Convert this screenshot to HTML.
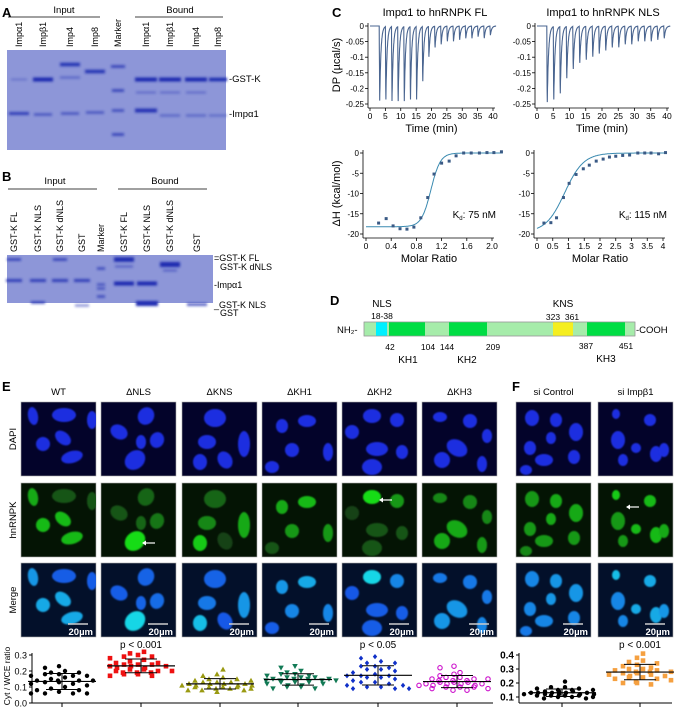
<!DOCTYPE html>
<html><head><meta charset="utf-8">
<style>
html,body{margin:0;padding:0;background:#fff;}
svg{display:block;font-family:"Liberation Sans",Arial,sans-serif;}
</style></head>
<body>
<svg id="fig" width="676" height="709" viewBox="0 0 676 709" xmlns="http://www.w3.org/2000/svg">
<defs>
<filter id="bl" x="-50%" y="-200%" width="200%" height="500%"><feGaussianBlur stdDeviation="1.2"/></filter>
<filter id="bl2" x="-30%" y="-30%" width="160%" height="160%"><feGaussianBlur stdDeviation="0.8"/></filter>
</defs>
<g font-weight="bold" font-size="13">
<text x="2" y="17">A</text><text x="2" y="181">B</text><text x="332" y="17">C</text><text x="330" y="305">D</text><text x="2" y="391">E</text><text x="512" y="391">F</text>
</g>

<g id="panelA" font-size="9.5">
<text x="64" y="13" text-anchor="middle">Input</text>
<line x1="8" y1="17" x2="100" y2="17" stroke="#000" stroke-width="0.8"/>
<text x="180" y="13" text-anchor="middle">Bound</text>
<line x1="135" y1="17" x2="223" y2="17" stroke="#000" stroke-width="0.8"/>
<rect x="7" y="50" width="219" height="100" fill="#8d96d8"/>
<text x="229" y="82">-GST-K</text>
<text x="229" y="117">-Impα1</text>
</g>

<g id="panelB" font-size="9.5">
<text x="55" y="184" text-anchor="middle">Input</text>
<line x1="8" y1="189" x2="97" y2="189" stroke="#000" stroke-width="0.8"/>
<text x="165" y="184" text-anchor="middle">Bound</text>
<line x1="118" y1="189" x2="207" y2="189" stroke="#000" stroke-width="0.8"/>
<rect x="7" y="255" width="206" height="48" fill="#8d96d8"/>
<text x="214" y="261" font-size="9">=GST-K FL</text>
<text x="220" y="270" font-size="9">GST-K dNLS</text>
<text x="214" y="288" font-size="9">-Impα1</text>
<text x="214" y="308" font-size="9">_GST-K NLS</text>
<text x="220" y="316" font-size="9">GST</text>
</g>

<g id="panelC" font-size="9"></g>

<g id="panelD" font-size="9">
<text x="382" y="307" text-anchor="middle" font-size="10">NLS</text>
<text x="382" y="319" text-anchor="middle" font-size="8.5">18-38</text>
<text x="563" y="307" text-anchor="middle" font-size="10">KNS</text>
<text x="553" y="320" text-anchor="middle" font-size="8.5">323</text>
<text x="572" y="320" text-anchor="middle" font-size="8.5">361</text>
<text x="337" y="333" font-size="9.5">NH₂-</text>
<rect x="364" y="322" width="271" height="14" fill="#a6ecaa" stroke="#999" stroke-width="0.6"/>
<rect x="376" y="322" width="11" height="14" fill="#00f0ff"/>
<rect x="389" y="322" width="36" height="14" fill="#00dd44"/>
<rect x="449" y="322" width="38" height="14" fill="#00dd44"/>
<rect x="553" y="322" width="20" height="14" fill="#f5ee20"/>
<rect x="587" y="322" width="38" height="14" fill="#00dd44"/>
<rect x="364" y="322" width="271" height="14" fill="none" stroke="#999" stroke-width="0.6"/>
<text x="636" y="333" font-size="9.5">-COOH</text>
<text x="390" y="350" text-anchor="middle" font-size="8.5">42</text>
<text x="428" y="350" text-anchor="middle" font-size="8.5">104</text>
<text x="447" y="350" text-anchor="middle" font-size="8.5">144</text>
<text x="493" y="350" text-anchor="middle" font-size="8.5">209</text>
<text x="586" y="349" text-anchor="middle" font-size="8.5">387</text>
<text x="626" y="349" text-anchor="middle" font-size="8.5">451</text>
<text x="408" y="363" text-anchor="middle" font-size="10">KH1</text>
<text x="467" y="363" text-anchor="middle" font-size="10">KH2</text>
<text x="606" y="362" text-anchor="middle" font-size="10">KH3</text>
</g>

<g id="panelE"></g>
<g id="scatter"></g>
</svg>
<script>
// ===== Scatter data =====
var catE = ['WT','ΔNLS','ΔKNS','ΔKH1','ΔKH2','ΔKH3'];
var catF = ['si Control','si Impβ1'];
var valWT   = [0.23,0.22,0.2,0.19,0.19,0.18,0.18,0.17,0.17,0.17,0.16,0.15,0.14,0.14,0.14,0.14,0.13,0.13,0.12,0.12,0.11,0.1,0.09,0.08,0.08,0.07,0.06,0.06,0.06,0.06];
var valNLS  = [0.32,0.31,0.3,0.29,0.29,0.28,0.27,0.26,0.25,0.25,0.24,0.24,0.24,0.23,0.23,0.23,0.22,0.22,0.21,0.21,0.2,0.2,0.2,0.19,0.19,0.19,0.18,0.18,0.17,0.17];
var valKNS  = [0.21,0.18,0.17,0.16,0.15,0.15,0.14,0.14,0.13,0.13,0.13,0.12,0.12,0.12,0.12,0.11,0.11,0.11,0.11,0.1,0.1,0.1,0.1,0.09,0.09,0.09,0.08,0.08,0.08,0.07];
var valKH1  = [0.23,0.22,0.2,0.19,0.18,0.18,0.17,0.17,0.16,0.16,0.16,0.15,0.15,0.15,0.15,0.14,0.14,0.14,0.14,0.13,0.13,0.13,0.12,0.12,0.11,0.11,0.1,0.1,0.09,0.09];
var valKH2  = [0.29,0.28,0.26,0.25,0.25,0.23,0.23,0.22,0.21,0.21,0.2,0.19,0.18,0.17,0.17,0.17,0.16,0.16,0.15,0.14,0.13,0.13,0.12,0.11,0.11,0.1,0.1,0.09,0.09,0.09];
var valKH3  = [0.23,0.22,0.19,0.18,0.17,0.16,0.16,0.15,0.15,0.15,0.14,0.14,0.14,0.13,0.13,0.13,0.12,0.12,0.12,0.12,0.11,0.11,0.11,0.1,0.1,0.1,0.09,0.09,0.08,0.08];
var valCtrl = [0.21,0.17,0.17,0.16,0.16,0.15,0.15,0.15,0.14,0.14,0.14,0.13,0.13,0.13,0.13,0.13,0.12,0.12,0.12,0.12,0.12,0.11,0.11,0.11,0.11,0.1,0.1,0.1,0.09,0.09];
var valImp  = [0.41,0.38,0.36,0.35,0.34,0.33,0.32,0.31,0.3,0.3,0.29,0.29,0.28,0.28,0.28,0.27,0.27,0.26,0.26,0.25,0.25,0.24,0.24,0.23,0.23,0.22,0.21,0.2,0.2,0.19];
var ticksE = [0.0,0.1,0.2,0.3];
var ticksF = [0.1,0.2,0.3,0.4];
var pLabelsE = ['','p < 0.001','','','p < 0.05',''];
var pLabelsF = ['','p < 0.001'];

// ===== ITC data =====
var depthFL  = [-0.245,-0.24,-0.245,-0.245,-0.245,-0.24,-0.24,-0.18,-0.1,-0.07,-0.06,-0.05,-0.05,-0.045,-0.04,-0.04,-0.035,-0.04,-0.03];
var depthNLS = [-0.25,-0.24,-0.22,-0.17,-0.14,-0.12,-0.11,-0.1,-0.09,-0.08,-0.07,-0.07,-0.06,-0.06,-0.05,-0.05,-0.05,-0.045,-0.04];
var injTimes = [3,5,7,9,11,13,15,17,19,21,23,25,27,29,31,33,35,37,39];
var mrFL  = [0.2,0.32,0.43,0.54,0.65,0.76,0.87,0.98,1.08,1.2,1.32,1.43,1.55,1.67,1.8,1.92,2.03,2.15];
var dhFL  = [-17.3,-16.2,-18,-18.7,-18.8,-18.3,-16,-11,-5.2,-2.5,-2,-0.7,0,0,0,0.1,0.1,0.3];
var mrNLS = [0.22,0.44,0.62,0.84,1.02,1.24,1.47,1.66,1.88,2.1,2.3,2.5,2.72,2.94,3.2,3.42,3.62,3.86,4.08];
var dhNLS = [-17.3,-17.2,-16,-11,-7.5,-5.3,-3.9,-3,-2,-1.5,-1,-0.8,-0.6,-0.5,0,0,0,-0.2,0.1];
var ticksTime = [0,5,10,15,20,25,30,35,40];
var ticksDP = [0,-0.05,-0.1,-0.15,-0.2,-0.25];
var ticksDH = [0,-5,-10,-15,-20];
var ticksMrFL = [0,0.4,0.8,1.2,1.6,2.0];
var ticksMrNLS = [0,0.5,1,1.5,2,2.5,3,3.5,4];

var NS='http://www.w3.org/2000/svg';
function mk(parent,tag,attrs,txt){var e=document.createElementNS(NS,tag);for(var k in attrs)e.setAttribute(k,attrs[k]);if(txt!==undefined)e.textContent=txt;parent.appendChild(e);return e;}

// ===== Gels =====
(function(){
  var gA=document.getElementById('panelA');
  var lanesA=[['Impα1',19],['Impβ1',43],['Imp4',70],['Imp8',95],['Marker',118],['Impα1',146],['Impβ1',170],['Imp4',196],['Imp8',218]];
  lanesA.forEach(function(l){
    var t=mk(gA,'text',{x:0,y:0,transform:'translate('+(l[1]+3)+',47) rotate(-90)','font-size':'9'},l[0]);
    
    
  });
  var bandsA=[[19,79,16,1,0.3],[43,79,20,3,1],[70,64,20,2.5,0.9],[70,77,20,1.5,0.4],[95,71,20,2.5,0.9],[118,66,14,1.5,0.8],[118,90,12,1.5,0.8],[118,110,12,1.5,0.7],[118,134,12,1.5,0.8],
    [146,79,22,3,1],[170,79,22,3,1],[196,79,22,3,1],[218,79,18,2.5,1],[146,92,20,1,0.4],[170,92,20,1,0.4],[196,92,20,1,0.4],
    [19,113,20,2,0.8],[43,114,18,1.5,0.6],[70,113,18,1.5,0.6],[95,112,18,1.5,0.6],[146,110,22,3,0.9],[170,115,20,1.2,0.45],[196,115,20,1.2,0.45],[218,115,18,1.2,0.4]];
  bandsA.forEach(function(b){var e=mk(gA,'rect',{x:b[0]-b[2]/2,y:b[1]-b[3]/2,width:b[2],height:b[3]+1,fill:'#1c2ab0',opacity:b[4],filter:'url(#bl)'});
    });
  var gB=document.getElementById('panelB');
  var lanesB=[['GST-K FL',14],['GST-K NLS',38],['GST-K dNLS',60],['GST',82],['Marker',101],['GST-K FL',124],['GST-K NLS',147],['GST-K dNLS',170],['GST',197]];
  lanesB.forEach(function(l){
    var t=mk(gB,'text',{x:0,y:0,transform:'translate('+(l[1]+3)+',252) rotate(-90)','font-size':'9'},l[0]);
    
    
  });
  var bandsB=[[14,259,14,1.5,0.8],[60,259,14,1.5,0.8],[101,268,8,1.5,0.7],[101,284,8,1.5,0.6],[101,288,8,1.5,0.6],[101,296,8,1.5,0.7],
    [124,259,20,3.5,1],[124,266,18,1,0.5],[170,264,20,4,1],[170,270,14,1,0.5],
    [14,280,16,2,0.8],[38,280,16,2,0.8],[60,280,16,2,0.8],[82,280,16,2,0.8],[124,283,20,3,1],[147,283,20,3,1],
    [38,302,14,1.5,0.8],[147,303,22,4,1],[82,305,14,1.5,0.5],[197,304,20,2,0.7]];
  bandsB.forEach(function(b){var e=mk(gB,'rect',{x:b[0]-b[2]/2,y:b[1]-b[3]/2,width:b[2],height:b[3]+1,fill:'#1c2ab0',opacity:b[4],filter:'url(#bl)'});
    });
})();

// ===== ITC =====
(function(){
  var g=document.getElementById('panelC');
  mk(g,'text',{x:435,y:16,'text-anchor':'middle','font-size':'11'},'Impα1 to hnRNPK FL');
  mk(g,'text',{x:603,y:16,'text-anchor':'middle','font-size':'11'},'Impα1 to hnRNPK NLS');
  function axes(x0,x1,y0,y1,xt,yt,xs,ys,xlabel,ylabel,ax,ay,fmtx){
    mk(g,'line',{x1:ax,y1:ay,x2:x1+2,y2:ay,stroke:'#000','stroke-width':0.8});
    mk(g,'line',{x1:ax,y1:y0-3,x2:ax,y2:ay,stroke:'#000','stroke-width':0.8});
    xt.forEach(function(v){var x=xs(v);mk(g,'line',{x1:x,y1:ay,x2:x,y2:ay+3,stroke:'#000','stroke-width':0.8});
      var t=mk(g,'text',{x:x,y:ay+11,'text-anchor':'middle','font-size':'8.5'},fmtx?fmtx(v):String(v));
      });
    yt.forEach(function(v){var y=ys(v);mk(g,'line',{x1:ax-3,y1:y,x2:ax,y2:y,stroke:'#000','stroke-width':0.8});
      var t=mk(g,'text',{x:ax-4,y:y+3,'text-anchor':'end','font-size':'8'},String(v));
      });
    var xl=mk(g,'text',{x:(x0+x1)/2,y:ay+24,'text-anchor':'middle','font-size':'11'},xlabel);
    
    if(ylabel){var yl=mk(g,'text',{transform:'translate(340,'+((y0+y1)/2)+') rotate(-90)','text-anchor':'middle','font-size':'11'},ylabel);
      }
  }
  function thermo(x0,x1,depths){
    var xs=function(t){return x0+(x1-x0)*t/40;}, ys=function(v){return 26+(v/-0.25)*78;};
    axes(x0,x1,26,104,ticksTime,ticksDP,xs,ys,'Time (min)',x0<400?'DP (µcal/s)':null,x0-2,108);
    var d='';
    for(var t=0;t<=41;t+=0.04){var v=0;
      for(var i=0;i<injTimes.length;i++){var dt=t-injTimes[i];if(dt<0)continue;v+=depths[i]*(dt<0.15?dt/0.15:Math.exp(-(dt-0.15)/0.4));}
      d+=(d?'L':'M')+xs(t).toFixed(1)+','+ys(v).toFixed(1);}
    var p=mk(g,'path',{d:d,fill:'none',stroke:'#4a6590','stroke-width':1.1});
    
  }
  thermo(370,493,depthFL);thermo(537,667,depthNLS);
  function iso(x0,xmax,x1,mr,dh,ticks,fit,kd,fmt){
    var xs=function(v){return x0+(x1-x0)*v/xmax;}, ys=function(v){return 153+(v/-20)*81;};
    axes(x0,x1,153,234,ticks,ticksDH,xs,ys,'Molar Ratio',x0<400?'ΔH (kcal/mol)':null,x0-3,238,fmt);
    var d='';for(var v=0;v<=mr[mr.length-1]+0.02;v+=xmax/200){d+=(d?'L':'M')+xs(v).toFixed(1)+','+ys(fit(v)).toFixed(1);}
    var p=mk(g,'path',{d:d,fill:'none',stroke:'#3a8ab0','stroke-width':1});
    
    mr.forEach(function(m,i){var c=mk(g,'rect',{x:xs(m)-1.5,y:ys(dh[i])-1.5,width:3,height:3,fill:'#3a5a85'});
      });
    var t=mk(g,'text',{x:x1+4,y:218,'text-anchor':'end','font-size':'10'});
    mk(t,'tspan',{},'K');mk(t,'tspan',{'font-size':'6',dy:'2'},'d');mk(t,'tspan',{dy:'-2'},': '+kd);
  }
  iso(366,2.0,492,mrFL,dhFL,ticksMrFL,function(x){return -18.2/(1+Math.exp((x-1.03)/0.075));},'75 nM',function(v){return v===0?'0':v.toFixed(1);});
  iso(537,4,663,mrNLS,dhNLS,ticksMrNLS,function(x){return -19.6/(1+Math.exp((x-0.88)/0.3));},'115 nM');
})();

// ===== Cell images =====
(function(){
  var g=document.getElementById('panelE');
  var colsX=[21,101,182,262,342,422,516,598];
  var heads=['WT','ΔNLS','ΔKNS','ΔKH1','ΔKH2','ΔKH3','si Control','si Impβ1'];
  var rowsY=[402,483,563]; var W=75,H=74;
  var rowNames=['DAPI','hnRNPK','Merge'];
  rowNames.forEach(function(n,i){var t=mk(g,'text',{transform:'translate(16,'+(rowsY[i]+37)+') rotate(-90)','text-anchor':'middle','font-size':'9.5'},n);
    });
  var nuc=[
   [[12,14,5,9,-10,0.7],[43,13,12,7,0,0.2],[71,18,5,9,0,0.2],[22,42,7,7,30,0.8],[42,36,9,6,40,0.8],[51,55,11,6,-15,0.8]],
   [[45,14,8,9,30,0.3],[18,30,9,7,30,0.2],[40,40,5,7,0,0.3],[56,38,7,8,20,0.4],[34,58,11,9,-40,1]],
   [[33,16,11,9,0,0.3],[25,40,9,7,0,0.5],[62,42,6,13,0,0.7],[18,60,7,8,0,0.9],[43,58,7,9,-30,0.1]],
   [[45,19,9,6,0,0.8],[20,24,6,7,0,0.7],[30,48,7,7,0,0.6],[66,50,5,9,0,0.6],[10,65,7,6,0,0.2]],
   [[30,14,9,7,0,1],[55,18,7,7,0,0.6],[35,47,11,7,0,0.2],[60,50,6,7,0,0.2],[30,65,10,8,0,0.2],[10,30,7,7,0,0.1]],
   [[18,15,7,5,0,0.5],[48,19,7,7,0,0.5],[35,46,11,8,30,0.7],[65,34,5,7,0,0.5],[20,58,8,8,0,0.7],[60,62,5,8,0,0.6]],
   [[16,16,7,8,0,0.6],[40,18,6,7,0,0.7],[60,30,7,9,0,0.7],[14,46,6,7,0,0.6],[35,36,5,6,0,0.7],[28,58,9,6,0,0.6],[58,55,6,7,0,0.6],[10,68,6,5,0,0.5]],
   [[18,12,4,5,0,0.9],[52,18,6,6,0,0.8],[20,38,7,9,0,0.6],[38,46,5,5,0,0.8],[58,52,6,8,0,0.8],[66,48,5,7,0,0.7],[25,58,5,6,0,0.6]]
  ];
  colsX.forEach(function(x,c){
    var t=mk(g,'text',{x:x+W/2,y:395,'text-anchor':'middle','font-size':'9.5'},heads[c]);
    
    for(var r=0;r<3;r++){
      var y=rowsY[r];
      var bg=['#03032a','#041404','#03102a'][r];
      var cell=mk(g,'g',{});
      
      
      mk(cell,'rect',{x:x,y:y,width:W,height:H,fill:bg,stroke:'#aaa','stroke-width':0.6});
      var clip='cl'+c+'_'+r;
      var cp=mk(g,'clipPath',{id:clip});mk(cp,'rect',{x:x,y:y,width:W,height:H});
      var inner=mk(cell,'g',{'clip-path':'url(#'+clip+')'});
      nuc[c].forEach(function(n){
        var col;
        if(r===0)col='#1f2ee0';
        else if(r===1){var gi=Math.round(50+170*n[5]);col='rgb(20,'+gi+',20)';}
        else {var gi2=Math.round(40+180*n[5]*n[5]);col='rgb(20,'+Math.round(60+gi2*0.7)+',230)';}
        mk(inner,'ellipse',{cx:x+n[0],cy:y+n[1],rx:n[2],ry:n[3],fill:col,transform:'rotate('+n[4]+' '+(x+n[0])+' '+(y+n[1])+')',filter:'url(#bl2)'});
      });
      if(r===2){
        mk(cell,'line',{x1:x+W-28,y1:y+H-13,x2:x+W-8,y2:y+H-13,stroke:'#ccc','stroke-width':1.5});
        var s=mk(cell,'text',{x:x+W-3,y:y+H-2,'text-anchor':'end','font-size':'9.5','font-weight':'bold',fill:'#fff'},'20µm');
        
      }
    }
  });
  [[101+50,483+60],[342+46,483+17],[598+37,483+24]].forEach(function(a){
    var ar=mk(g,'g',{});
    
    mk(ar,'line',{x1:a[0]-7,y1:a[1],x2:a[0]+4,y2:a[1],stroke:'#fff','stroke-width':1.2});
    mk(ar,'path',{d:'M'+(a[0]-9)+','+a[1]+' l4,-2.5 l0,5 z',fill:'#fff'});
  });
})();

// ===== Scatter =====
(function(){
  var g=document.getElementById('scatter');
  function drawMarker(type,x,y,color){
    var e;
    if(type==='circle')e=mk(g,'circle',{cx:x,cy:y,r:2.2,fill:color});
    else if(type==='ocircle')e=mk(g,'circle',{cx:x,cy:y,r:2.2,fill:'none',stroke:color,'stroke-width':1.1});
    else if(type==='square')e=mk(g,'rect',{x:x-2.3,y:y-2.3,width:4.6,height:4.6,fill:color});
    else if(type==='tri')e=mk(g,'path',{d:'M'+x+','+(y-2.8)+' l2.8,5 l-5.6,0 z',fill:color});
    else if(type==='itri')e=mk(g,'path',{d:'M'+x+','+(y+2.8)+' l2.8,-5 l-5.6,0 z',fill:color});
    else e=mk(g,'path',{d:'M'+x+','+(y-2.6)+' l2.2,2.6 l-2.2,2.6 l-2.2,-2.6 z',fill:color});
    
    
  }
  var jitter=[0,-14,14,-28,28,-7,7,-21,21,-35,35];
  function plot(axX,axRight,y0px,yBase,pxPer01,ticks,cats,groups,pl,axisBottom){
    var ys=function(v){return y0px-(v-yBase)*pxPer01*10;};
    mk(g,'line',{x1:axX,y1:axisBottom,x2:axRight,y2:axisBottom,stroke:'#000','stroke-width':1});
    mk(g,'line',{x1:axX,y1:axisBottom,x2:axX,y2:ys(ticks[ticks.length-1])-2,stroke:'#000','stroke-width':1});
    ticks.forEach(function(v){var y=ys(v);mk(g,'line',{x1:axX-3,y1:y,x2:axX,y2:y,stroke:'#000','stroke-width':1});
      var t=mk(g,'text',{x:axX-5,y:y+3.5,'text-anchor':'end','font-size':(cats.length===2?'10':'9'),'font-weight':(cats.length===2?'bold':'normal')},v.toFixed(1));
      });
    groups.forEach(function(gr,i){
      var cx=gr.cx;
      mk(g,'line',{x1:cx,y1:axisBottom,x2:cx,y2:axisBottom+4,stroke:'#000','stroke-width':1});
      var vals=gr.vals;
      // beeswarm: points with equal (rounded) value spread horizontally
      var counts={};
      vals.forEach(function(v){
        var key=Math.round(ys(v)/4.5);
        var k=counts[key]||0;counts[key]=k+1;
        drawMarker(gr.type,cx+jitter[k%jitter.length]+((key%2)?3:-3),ys(v),gr.color);
      });
      var m=vals.reduce(function(a,b){return a+b;},0)/vals.length;
      var sd=Math.sqrt(vals.reduce(function(a,b){return a+(b-m)*(b-m);},0)/(vals.length-1));
      mk(g,'line',{x1:cx-34,y1:ys(m),x2:cx+34,y2:ys(m),stroke:'#000','stroke-width':1.2});
      mk(g,'line',{x1:cx-16,y1:ys(m+sd),x2:cx+16,y2:ys(m+sd),stroke:'#000','stroke-width':1});
      mk(g,'line',{x1:cx-16,y1:ys(m-sd),x2:cx+16,y2:ys(m-sd),stroke:'#000','stroke-width':1});
      mk(g,'line',{x1:cx,y1:ys(m+sd),x2:cx,y2:ys(m-sd),stroke:'#000','stroke-width':1});
      if(pl[i]){var t=mk(g,'text',{x:cx,y:648,'text-anchor':'middle','font-size':'10'},pl[i]);
        }
    });
  }
  var yl=mk(g,'text',{transform:'translate(10,676) rotate(-90)','text-anchor':'middle','font-size':'8.5'},'Cyt / WCE ratio');
  
  plot(32,493,703,0,16,ticksE,catE,[
    {cx:62,vals:valWT,type:'circle',color:'#000'},
    {cx:141,vals:valNLS,type:'square',color:'#ee1111'},
    {cx:220,vals:valKNS,type:'tri',color:'#9a9a12'},
    {cx:298,vals:valKH1,type:'itri',color:'#127a55'},
    {cx:378,vals:valKH2,type:'diamond',color:'#1030c8'},
    {cx:457,vals:valKH3,type:'ocircle',color:'#cc10cc'}],pLabelsE,703);
  plot(519,672,697,0.1,14,ticksF,catF,[
    {cx:562,vals:valCtrl,type:'circle',color:'#000'},
    {cx:640,vals:valImp,type:'square',color:'#f5a040'}],pLabelsF,703);
})();
</script>
</body></html>
